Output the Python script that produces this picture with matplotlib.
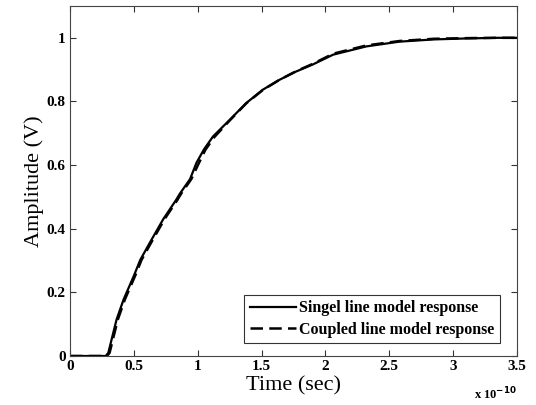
import matplotlib
matplotlib.use("Agg")
import matplotlib.pyplot as plt
import numpy as np

# time in units of 1e-10 s
t_single = [0, 0.28, 0.30, 0.34, 0.365, 0.42, 0.50, 0.55, 0.625, 0.73, 0.83, 0.86, 0.94,
            0.99, 1.05, 1.12, 1.25, 1.38, 1.51, 1.64, 1.77, 1.90, 2.06, 2.32, 2.58,
            2.85, 3.10, 3.35, 3.50]
v_single = [0, 0, 0.01, 0.075, 0.115, 0.178, 0.252, 0.302, 0.356, 0.43, 0.49, 0.51, 0.556,
            0.607, 0.65, 0.69, 0.742, 0.795, 0.837, 0.868, 0.894, 0.916, 0.947, 0.973, 0.988,
            0.995, 0.998, 1.0, 1.0]
t_coupled = [0, 0.29, 0.31, 0.35, 0.375, 0.43, 0.51, 0.56, 0.635, 0.74, 0.84, 0.87, 0.95,
             1.01, 1.06, 1.13, 1.25, 1.38, 1.51, 1.64, 1.77, 1.90, 2.06, 2.32, 2.58,
             2.85, 3.10, 3.35, 3.50]
v_coupled = [0, 0, 0.01, 0.075, 0.115, 0.178, 0.252, 0.302, 0.356, 0.43, 0.49, 0.51, 0.556,
             0.607, 0.648, 0.688, 0.74, 0.794, 0.836, 0.868, 0.895, 0.918, 0.95, 0.976, 0.99,
             0.997, 0.999, 1.0, 1.0]
x_ticks = [0, 0.5, 1, 1.5, 2, 2.5, 3, 3.5]
x_ticklabels = ["0", "0.5", "1", "1.5", "2", "2.5", "3", "3.5"]
y_ticks = [0, 0.2, 0.4, 0.6, 0.8, 1]
y_ticklabels = ["0", "0.2", "0.4", "0.6", "0.8", "1"]

serif = ["Liberation Serif", "DejaVu Serif"]
fig = plt.figure(figsize=(5.36, 4.05), dpi=100)
ax = fig.add_axes([70/536, 49/405, 447/536, 350/405])

ax.plot(t_single, v_single, color="black", lw=1.6, label="Singel line model response")
ax.plot(t_coupled, v_coupled, color="black", lw=1.8, ls=(0, (5, 2.5)), label="Coupled line model response")

ax.set_xlim(0, 3.5)
ax.set_ylim(0, 1.1)
ax.set_xticks(x_ticks)
ax.set_xticklabels(x_ticklabels, family=serif, fontweight="bold", fontsize=11)
ax.set_yticks(y_ticks)
ax.set_yticklabels(y_ticklabels, family=serif, fontweight="bold", fontsize=11)
ax.tick_params(direction="in", top=True, right=True, length=4, width=0.8, pad=3, color="#333333")
for s in ax.spines.values():
    s.set_color("#444444")
    s.set_linewidth(0.8)

ax.set_xlabel("Time (sec)", family=serif, fontsize=16, labelpad=2)
ax.set_ylabel("Amplitude (V)", family=serif, fontsize=16, labelpad=2)
ax.text(1.0, -0.11, r"x 10$^{\mathbf{-10}}$", transform=ax.transAxes, ha="right", va="center",
        family=serif, fontweight="bold", fontsize=9)

leg = ax.legend(loc="lower right", prop={"family": serif, "weight": "bold", "size": 11.5},
                frameon=True, fancybox=False, edgecolor="black", handlelength=2.9,
                handletextpad=0.15, borderpad=0.35, labelspacing=0.35, borderaxespad=0,
                bbox_to_anchor=(0.961, 0.036))
leg.get_frame().set_linewidth(0.8)

fig.savefig("out.png", dpi=100)
